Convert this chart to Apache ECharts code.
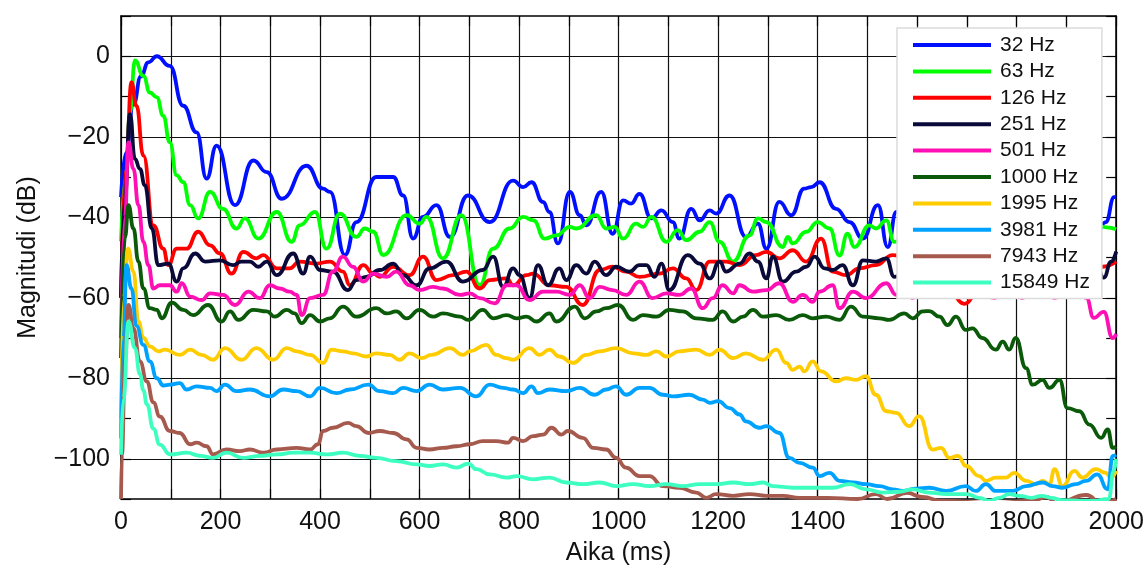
<!DOCTYPE html>
<html><head><meta charset="utf-8">
<script src="https://cdn.jsdelivr.net/npm/echarts@6/dist/echarts.min.js"></script>
<style>html,body{margin:0;padding:0;background:#fff}#c{width:1147px;height:571px}</style>
</head><body><div id="c"></div>
<script>
const seriesNames = ['32 Hz','63 Hz','126 Hz','251 Hz','501 Hz','1000 Hz','1995 Hz','3981 Hz','7943 Hz','15849 Hz'];
const xTicks = [0,200,400,600,800,1000,1200,1400,1600,1800,2000];
const yTicks = [0,-20,-40,-60,-80,-100];

const f32 = [[0,-35],[10,-24],[25,-12],[40,-5],[55,-1.5],[72,0],[98,-2.4],[125,-12.3],[152,-18.9],[172,-30.4],[192,-22.2],[229,-37],[266,-25.9],[293,-28.8],[323,-35.4],[373,-27.2],[406,-32.9],[420,-33.7],[450,-49.4],[473,-41.2],[513,-30],[547,-30],[567,-34.6],[587,-45.3],[607,-39.9],[634,-37],[661,-44.9],[697,-34.6],[741,-41.2],[788,-30.9],[808,-32.5],[825,-31.3],[848,-36.2],[861,-38.7],[878,-46.5],[902,-33.7],[922,-39.5],[935,-42],[965,-33.7],[988,-44.1],[1009,-35.8],[1025,-36.6],[1042,-34.2],[1066,-40.3],[1086,-38.3],[1109,-41.2],[1122,-45.3],[1146,-37.9],[1163,-40.8],[1183,-38.3],[1196,-39.1],[1223,-34.6],[1256,-44.9],[1280,-41.6],[1297,-47.8],[1323,-36.2],[1347,-39.5],[1373,-32.9],[1387,-32.5],[1404,-31.3],[1437,-37.9],[1464,-41.2],[1491,-45.3],[1521,-37],[1541,-47.4],[1558,-38.7],[1600,-42],[1700,-40],[1800,-43],[1900,-42],[1960,-44],[1979,-41.2],[1996,-35],[2000,-35]];
const f63 = [[0,-46],[10,-30],[18,-14],[28,-1],[45,-4.9],[58,-9],[72,-10.2],[85,-14.8],[98,-21.4],[112,-29.6],[125,-31.3],[139,-37],[155,-40.3],[179,-33.7],[205,-37.9],[232,-42.8],[249,-40.3],[276,-45.3],[313,-38.7],[343,-46.1],[359,-42],[390,-38.7],[413,-47.8],[440,-39.1],[473,-44.9],[490,-42.8],[507,-43.6],[527,-49.4],[574,-39.5],[600,-41.6],[614,-39.9],[647,-50.2],[684,-39.5],[721,-56.9],[748,-47.8],[781,-42.8],[808,-39.9],[829,-40.8],[851,-45.3],[875,-44.5],[902,-42.4],[915,-42.8],[955,-39.5],[975,-42.8],[992,-42.4],[1009,-45.3],[1035,-41.6],[1049,-42.4],[1066,-39.9],[1096,-46.1],[1119,-43.2],[1136,-45.7],[1163,-43.6],[1183,-41.2],[1203,-46.1],[1230,-51],[1263,-44.5],[1280,-40.3],[1297,-41.2],[1330,-47.4],[1340,-44.9],[1350,-46.5],[1377,-43.6],[1400,-41.2],[1424,-42.8],[1444,-49.5],[1460,-44.1],[1474,-47.4],[1504,-42],[1517,-42.8],[1538,-40.8],[1554,-46.1],[1600,-43],[1700,-42],[1800,-44],[1900,-43],[1960,-42],[1980,-42.5],[2000,-43]];
const f126 = [[0,-60],[10,-28],[21,-6.5],[31,-12.3],[45,-24.7],[65,-42],[85,-47.8],[95,-51.9],[112,-47.8],[132,-47.8],[155,-43.6],[179,-47],[199,-49],[222,-54],[246,-48.6],[272,-50.2],[286,-49.4],[313,-52.7],[339,-52.7],[359,-51],[393,-51.5],[420,-51],[446,-53.5],[460,-56.9],[487,-51.9],[507,-54],[520,-54.8],[547,-52.3],[580,-54.4],[607,-49.8],[634,-55.6],[667,-54.4],[694,-53.5],[721,-57.7],[741,-55.6],[775,-55.2],[788,-56.9],[815,-54.4],[828,-54],[861,-56.9],[895,-57.3],[928,-61.8],[962,-53.1],[988,-52.3],[1015,-53.5],[1042,-54.8],[1082,-54],[1109,-52.7],[1136,-55.2],[1156,-58.1],[1183,-51],[1216,-51],[1243,-51.9],[1276,-49.4],[1297,-48.6],[1323,-50.2],[1350,-48.2],[1377,-51],[1407,-45.3],[1430,-53.5],[1457,-54.4],[1484,-52.7],[1517,-51.9],[1551,-49.4],[1600,-52],[1650,-54],[1695,-61.5],[1740,-53],[1800,-52],[1900,-53],[1972,-52.3],[2000,-51]];
const f251 = [[0,-60],[8,-35],[18,-14.4],[28,-25.5],[38,-28],[48,-32.1],[62,-42.8],[75,-51.9],[95,-51.5],[112,-56],[125,-52.7],[149,-49],[169,-51],[199,-50.7],[225,-51.9],[242,-51],[259,-51],[276,-52.3],[293,-51],[313,-54.4],[346,-49],[366,-54],[380,-49.8],[400,-53.1],[426,-53.5],[456,-58.1],[473,-55.6],[493,-54.8],[520,-53.1],[547,-51.5],[567,-54.4],[594,-56.9],[620,-52.7],[654,-51],[687,-56],[727,-53.1],[748,-49.8],[768,-57.3],[788,-52.7],[801,-54.4],[821,-60.1],[838,-51.9],[858,-56.9],[881,-52.7],[895,-55.6],[915,-51.9],[935,-54],[952,-51],[975,-54.4],[995,-52.3],[1022,-53.5],[1042,-51.9],[1056,-51.9],[1072,-54.8],[1086,-51.5],[1102,-58.1],[1139,-49.4],[1163,-51.5],[1183,-55.2],[1203,-51],[1216,-53.5],[1243,-51.5],[1263,-49],[1280,-51],[1297,-55.2],[1310,-49.8],[1330,-56],[1357,-53.5],[1377,-52.3],[1394,-49.8],[1414,-52.7],[1430,-53.1],[1450,-51.9],[1471,-56.9],[1491,-50.7],[1517,-51],[1538,-50.2],[1554,-54.8],[1600,-52],[1700,-53],[1800,-52],[1900,-53],[1960,-52],[1975,-55],[1990,-51],[2000,-48.5]];
const f501 = [[0,-70],[8,-40],[15,-21.4],[25,-28],[35,-37],[45,-46.1],[55,-51.9],[65,-57.7],[78,-56.9],[98,-56.9],[112,-58.5],[122,-56.4],[139,-59.7],[162,-60.6],[179,-58.9],[205,-59.3],[229,-61.8],[256,-58.5],[279,-60.1],[299,-56.9],[319,-57.7],[339,-58.5],[353,-59.3],[363,-64.3],[380,-60.1],[406,-59.3],[426,-53.5],[446,-49.8],[466,-52.3],[487,-56],[507,-54],[534,-54.8],[553,-53.5],[580,-56.9],[600,-58.1],[627,-57.3],[647,-57.7],[681,-59.3],[701,-58.9],[721,-60.1],[751,-61.4],[775,-56.9],[795,-56.9],[821,-60.6],[848,-58.5],[875,-58.5],[902,-59.3],[922,-56.9],[942,-60.1],[962,-57.3],[988,-58.1],[1015,-59.3],[1042,-56],[1068,-60.1],[1096,-58.9],[1122,-59.3],[1146,-57.7],[1169,-62.6],[1189,-60.1],[1209,-56.9],[1230,-58.9],[1243,-56.9],[1270,-58.5],[1297,-58.1],[1323,-56.4],[1350,-61],[1370,-59.3],[1390,-61],[1404,-58.5],[1430,-56.9],[1444,-62.6],[1471,-58.5],[1497,-60.1],[1538,-56.4],[1558,-59.3],[1575,-57],[1590,-60],[1620,-56],[1660,-57],[1700,-56],[1755,-60],[1785,-56],[1811,-60],[1845,-56],[1876,-60],[1910,-57],[1940,-60],[1955,-65],[1975,-63.5],[1993,-70],[2000,-69]];
const f1000 = [[0,-75],[8,-45],[15,-37],[25,-42.8],[35,-51],[45,-57.7],[58,-62.6],[72,-63],[82,-65.1],[102,-61.2],[125,-63],[145,-64.3],[175,-61.8],[202,-65.9],[219,-63.4],[236,-65.5],[266,-63],[293,-63.4],[309,-64.7],[333,-63],[349,-63.9],[363,-66.3],[380,-64.3],[400,-65.9],[420,-65.1],[446,-62.2],[473,-64.7],[513,-62.6],[534,-63.9],[553,-63.4],[574,-65.1],[600,-63],[627,-64.7],[647,-63.9],[681,-64.7],[698,-65.5],[727,-63],[748,-65.1],[775,-64.3],[795,-65.1],[815,-64.7],[835,-65.9],[861,-63.9],[875,-65.9],[912,-62.2],[932,-65.1],[955,-63.4],[975,-62.6],[999,-61.8],[1029,-65.5],[1049,-64.3],[1076,-64.7],[1102,-63],[1129,-63.4],[1156,-65.1],[1189,-65.5],[1209,-63.4],[1230,-65.9],[1250,-64.7],[1270,-63],[1290,-64.7],[1317,-64.3],[1343,-65.5],[1370,-64.3],[1390,-65.1],[1417,-64.7],[1444,-65.5],[1467,-62.2],[1491,-64.7],[1524,-65.1],[1544,-65.5],[1574,-63.9],[1591,-65.1],[1611,-63.4],[1624,-63.3],[1645,-64.7],[1661,-66.8],[1678,-64.7],[1698,-68],[1711,-67.6],[1731,-70],[1758,-72.9],[1772,-70.9],[1785,-72.9],[1798,-70],[1819,-77.5],[1832,-81.6],[1852,-80.4],[1866,-82.4],[1886,-80.4],[1902,-87.4],[1926,-88.2],[1946,-91.5],[1970,-94.8],[1983,-92.7],[1993,-97.3],[2000,-97]];
const f1995 = [[0,-90],[6,-60],[14,-47.8],[25,-53.5],[35,-65.9],[45,-70],[58,-72.1],[75,-73.3],[88,-72.9],[118,-74.2],[139,-72.9],[162,-74.2],[185,-75.4],[209,-72.5],[242,-75.4],[272,-72.5],[306,-75.4],[333,-72.5],[353,-73.3],[380,-74.2],[406,-76.2],[423,-72.9],[446,-73.3],[466,-73.8],[493,-74.6],[513,-73.8],[540,-74.2],[560,-75.4],[580,-73.8],[604,-75],[624,-74.2],[661,-72.5],[687,-74.2],[701,-73.3],[734,-71.7],[754,-74.2],[775,-75],[788,-75.4],[821,-72.5],[841,-74.2],[861,-72.9],[881,-74.6],[908,-76.2],[935,-74.2],[962,-73.3],[995,-72.5],[1029,-73.8],[1056,-74.2],[1076,-73.3],[1096,-74.6],[1122,-73.3],[1156,-72.9],[1183,-74.2],[1203,-72.9],[1230,-75],[1256,-73.8],[1290,-75.4],[1317,-72.9],[1337,-76.2],[1350,-77.9],[1364,-77.1],[1373,-78.3],[1390,-75.8],[1407,-78.3],[1437,-80.8],[1457,-80],[1477,-80.4],[1497,-79.5],[1517,-84.1],[1538,-88.2],[1558,-88.6],[1584,-91.9],[1604,-89.4],[1631,-97.7],[1648,-97.3],[1665,-99.8],[1682,-99.3],[1698,-101.8],[1725,-104.3],[1738,-105.5],[1758,-104.7],[1778,-104.7],[1795,-103.5],[1819,-105.5],[1839,-106.3],[1852,-105.5],[1866,-106.3],[1876,-102.6],[1892,-106.8],[1916,-103],[1932,-104.7],[1959,-102.6],[1979,-103.5],[1989,-104.7],[2000,-103]];
const f3981 = [[0,-95],[5,-70],[11,-51.9],[21,-57.7],[31,-67],[45,-71.7],[58,-75.8],[72,-80],[85,-81.8],[98,-81.6],[118,-81.2],[132,-82.8],[152,-82],[179,-82.4],[192,-83.2],[209,-81.6],[232,-83.2],[259,-82.8],[299,-84.5],[326,-82.8],[353,-83.2],[380,-84.5],[400,-82.4],[433,-83.7],[460,-82.8],[497,-81.6],[520,-83.2],[547,-83.7],[567,-82.4],[594,-83.2],[620,-81.6],[647,-82.8],[681,-82.4],[714,-84.5],[741,-81.6],[768,-82.4],[788,-82.8],[808,-83.7],[825,-82],[838,-83.7],[861,-82.8],[895,-83.2],[922,-82.4],[952,-84.1],[975,-82.8],[995,-82],[1015,-84.1],[1042,-82.4],[1062,-82.4],[1089,-84.1],[1109,-84.5],[1142,-84.1],[1169,-85.3],[1183,-86.1],[1200,-85.7],[1223,-87.4],[1243,-89],[1256,-90.7],[1283,-92.3],[1297,-91.9],[1323,-93.6],[1343,-99.8],[1364,-101],[1390,-102.2],[1404,-104.3],[1424,-103.5],[1444,-105.5],[1471,-105.9],[1497,-106.3],[1524,-106.8],[1551,-107.6],[1571,-108],[1598,-107.4],[1624,-107.2],[1658,-108],[1698,-106.8],[1718,-108],[1738,-106.3],[1758,-108],[1792,-108],[1819,-106.8],[1852,-105.9],[1872,-106.8],[1892,-107.2],[1919,-106.3],[1939,-105.5],[1962,-103.9],[1983,-107.6],[1993,-99.3],[2000,-99]];
const f7943 = [[0,-110],[2,-99],[8,-75],[15,-61.8],[25,-67.6],[38,-75.8],[52,-80.8],[65,-86],[78,-89.5],[98,-93.1],[118,-93.6],[139,-96.4],[152,-96],[172,-96.9],[185,-98.9],[212,-97.7],[239,-98.1],[259,-97.7],[286,-98.5],[313,-97.7],[353,-97.3],[380,-97.7],[396,-96.4],[406,-93.1],[426,-92.3],[456,-91.1],[473,-91.9],[497,-93.6],[520,-93.1],[547,-93.6],[574,-95.2],[594,-97.3],[620,-97.7],[647,-97.3],[674,-96.9],[701,-96.4],[727,-95.6],[754,-95.6],[778,-96],[788,-94.8],[808,-95.6],[828,-94.4],[848,-94],[865,-92.3],[885,-94],[898,-93.1],[928,-94.8],[949,-97.3],[975,-97.7],[995,-99.8],[1015,-102.2],[1042,-104.3],[1062,-104.3],[1089,-106.8],[1122,-107.2],[1156,-108.4],[1176,-109.7],[1196,-108.8],[1230,-109.2],[1263,-108.8],[1297,-109.2],[1330,-109.2],[1364,-109.7],[1420,-109.7],[1480,-110],[1517,-108.8],[1540,-110],[1580,-108.5],[1610,-109.5],[1650,-110.5],[1750,-111],[1830,-110.5],[1860,-109.5],[1880,-111],[1940,-109],[1970,-111],[2000,-110]];
const f15849 = [[0,-99],[5,-85],[15,-65.9],[28,-72.5],[38,-79],[45,-83],[52,-86.5],[65,-92.5],[78,-96.5],[98,-98.9],[132,-98.5],[159,-99.3],[185,-99.8],[212,-98.5],[246,-99.8],[279,-99.3],[313,-98.9],[346,-98.5],[380,-98.5],[413,-98.9],[446,-98.5],[480,-99.3],[513,-99.8],[553,-100.6],[594,-101.4],[620,-101.8],[647,-101.4],[674,-102.2],[698,-101.2],[714,-102.6],[741,-103.9],[775,-104.7],[795,-104.3],[828,-105.1],[861,-104.7],[895,-105.9],[928,-106.3],[962,-105.9],[995,-106.8],[1029,-106.3],[1062,-106.8],[1096,-106.3],[1129,-106.8],[1163,-106.3],[1196,-106.3],[1230,-105.9],[1263,-106.3],[1290,-105.9],[1310,-106.8],[1350,-107.2],[1390,-107.2],[1430,-107.2],[1464,-106.3],[1497,-107.6],[1531,-108.4],[1564,-108.2],[1591,-107.6],[1624,-108.4],[1660,-108.8],[1700,-108.8],[1725,-109.7],[1745,-110.5],[1765,-109.7],[1785,-108.8],[1805,-109.2],[1830,-109.7],[1850,-109.2],[1870,-109.7],[1890,-110.3],[1950,-110.5],[1985,-110],[1995,-103],[2000,-100]];

const seriesData = [f32,f63,f126,f251,f501,f1000,f1995,f3981,f7943,f15849];
const colors = ['#0010ff','#00ff00','#ff0000','#0a0a3a','#ff10b4','#0a5a0a','#ffcc00','#00a2ff','#a65a4e','#3cffc0'];

const FONT = '"Liberation Sans", Arial, sans-serif';
const fmt = v => (v < 0 ? '\u2212' + (-v) : String(v));

const chart = echarts.init(document.getElementById('c'), null, {renderer: 'canvas'});
chart.setOption({
  animation: false,
  backgroundColor: '#fff',
  grid: {left: 121, right: 30, top: 16, bottom: 69, show: false},
  legend: {
    orient: 'vertical', left: 897, top: 28,
    padding: [6, 12, 5, 16],
    icon: 'rect',
    itemWidth: 78, itemHeight: 4, itemGap: 4.4,
    backgroundColor: '#fff', borderColor: '#dcdcdc', borderWidth: 1.5,
    textStyle: {fontSize: 21, lineHeight: 22, fontFamily: FONT, color: '#111', padding: [0, 0, 0, 4]},
    data: seriesNames
  },
  xAxis: [{
    type: 'value', min: 0, max: 2000, interval: 100,
    name: 'Aika (ms)', nameLocation: 'middle', nameGap: 42,
    nameTextStyle: {fontSize: 25, fontFamily: FONT, color: '#111'},
    axisLine: {show: true, onZero: false, lineStyle: {color: '#000', width: 1.5}},
    axisTick: {show: true, inside: true, length: 10, lineStyle: {color: '#000', width: 1.2}},
    axisLabel: {margin: 11, fontSize: 25, fontFamily: FONT, color: '#111',
      formatter: v => (xTicks.indexOf(v) >= 0 ? fmt(v) : '')},
    splitLine: {show: true, lineStyle: {color: '#111', width: 1.2}}
  }, {
    type: 'value', min: 0, max: 2000, interval: 100, position: 'top',
    axisLine: {show: true, onZero: false, lineStyle: {color: '#000', width: 1.5}},
    axisTick: {show: true, inside: true, length: 10, lineStyle: {color: '#000', width: 1.2}},
    axisLabel: {show: false}, splitLine: {show: false}
  }],
  yAxis: [{
    type: 'value', min: -110, max: 10, interval: 10,
    name: 'Magnitudi (dB)', nameLocation: 'middle', nameGap: 80,
    nameTextStyle: {fontSize: 25, fontFamily: FONT, color: '#111'},
    axisLine: {show: true, onZero: false, lineStyle: {color: '#000', width: 1.5}},
    axisTick: {show: true, inside: true, length: 10, lineStyle: {color: '#000', width: 1.2}},
    axisLabel: {margin: 11, fontSize: 25, fontFamily: FONT, color: '#111',
      formatter: v => (yTicks.indexOf(v) >= 0 ? fmt(v) : '')},
    splitLine: {show: true, lineStyle: {color: ['rgba(0,0,0,0)', '#111'], width: 1.2}}
  }, {
    type: 'value', min: -110, max: 10, interval: 10, position: 'right',
    axisLine: {show: true, onZero: false, lineStyle: {color: '#000', width: 1.5}},
    axisTick: {show: true, inside: true, length: 10, lineStyle: {color: '#000', width: 1.2}},
    axisLabel: {show: false}, splitLine: {show: false}
  }],
  series: seriesNames.map((n, i) => ({
    name: n, type: 'line', xAxisIndex: 0, yAxisIndex: 0,
    data: seriesData[i], showSymbol: false, symbol: 'none',
    smooth: 0.5, smoothMonotone: 'x',
    lineStyle: {width: 3.8, color: colors[i]}, itemStyle: {color: colors[i]},
    emphasis: {disabled: true}
  }))
});
</script></body></html>
